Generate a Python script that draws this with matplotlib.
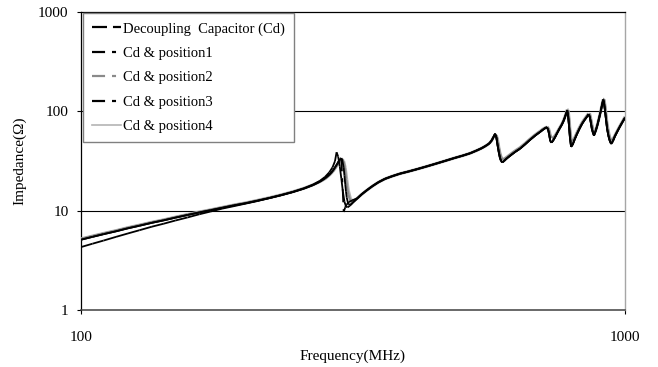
import matplotlib
matplotlib.use("Agg")
import matplotlib.pyplot as plt
from matplotlib.collections import LineCollection
from matplotlib.lines import Line2D
import numpy as np

plt.rcParams["font.family"] = ["Liberation Serif", "DejaVu Serif"]
plt.rcParams["lines.scale_dashes"] = False

# ---- impedance data (MHz, ohm) ----
# low band: shared frequency grid
freq_low = [100, 105, 110, 116, 122, 128, 135, 142, 149, 157, 165, 173, 182,
            191, 201, 211, 222, 233, 245, 257, 267, 275]
z_low_cd = [4.3, 4.65, 5.0, 5.45, 5.9, 6.35, 6.9, 7.4, 7.95, 8.55, 9.2, 9.8,
            10.5, 11.1, 11.8, 12.5, 13.4, 14.3, 15.4, 16.8, 18.3, 20.0]
z_low_black = [5.1, 5.45, 5.8, 6.2, 6.65, 7.05, 7.55, 8.0, 8.5, 9.05, 9.6, 10.1,
               10.7, 11.3, 11.9, 12.6, 13.4, 14.3, 15.4, 16.7, 18.1, 19.6]
z_low_gray = [5.2, 5.55, 5.9, 6.3, 6.75, 7.15, 7.65, 8.1, 8.6, 9.15, 9.7, 10.2,
              10.8, 11.4, 12.0, 12.7, 13.5, 14.4, 15.5, 16.8, 18.2, 19.6]

# first anti-resonance, per series
res_f_cd = [281, 286, 290, 293, 295, 297, 299, 301, 303, 305, 307, 309, 312, 316]
res_z_cd = [21.9, 24.3, 27.3, 31.5, 38.7, 35.0, 28.0, 21.0, 15.5, 12.3, 11.0,
            10.8, 11.2, 12.0]
res_f_p1 = [281, 286, 290, 293, 296, 298, 300, 301, 304, 306, 308, 311, 315]
res_z_p1 = [21.2, 23.0, 25.0, 27.2, 29.8, 31.8, 33.3, 33.7, 9.7, 10.8, 11.6,
            12.2, 12.7]
res_f_p2 = [281, 286, 290, 293, 296, 298, 300, 302, 304, 305, 306, 307, 308,
            310, 313, 317]
res_z_p2 = [21.0, 22.7, 24.6, 26.6, 29.0, 30.8, 32.3, 33.0, 31.0, 28.0, 24.5,
            21.0, 18.0, 14.5, 12.4, 12.5]
res_f_p3 = [281, 286, 290, 293, 296, 298, 300, 301, 302, 304, 305, 306, 307,
            308, 310, 313, 317]
res_z_p3 = [21.2, 23.0, 25.0, 27.2, 29.8, 31.8, 33.3, 33.7, 33.0, 27.0, 22.5,
            18.5, 15.5, 13.5, 11.6, 11.5, 12.3]
res_f_p4 = [281, 286, 290, 293, 296, 298, 300, 302, 304, 306, 308, 310, 313, 317]
res_z_p4 = [21.0, 22.7, 24.6, 26.6, 29.0, 30.8, 32.0, 32.6, 31.5, 27.0, 20.5,
            16.0, 13.0, 12.5]

# middle band: all curves coincide
freq_mid = [322, 328, 335, 343, 352, 362, 373, 386, 400, 415, 431, 448, 466,
            485, 503, 519, 533, 545, 555, 563, 569, 573]
z_mid = [13.3, 14.6, 16.0, 17.6, 19.3, 20.9, 22.2, 23.6, 24.8, 26.2, 27.8,
         29.6, 31.6, 33.8, 35.8, 37.8, 40.2, 42.5, 45.0, 47.5, 51.0, 55.0]

# high band: cavity resonances
freq_high = [577, 580, 583, 586, 589, 592, 595, 599, 606, 616, 628, 641, 655,
             670, 685, 698, 707, 714, 719, 723, 726, 729, 733, 738, 744, 751,
             758, 765, 771, 776, 780, 783, 786, 789, 792, 796, 801, 808, 816,
             825, 834, 843, 851, 857, 861, 865, 869, 873, 877, 883, 890, 897,
             903, 908, 912, 915, 919, 923, 927, 932, 937, 943, 950, 958, 967,
             977, 988, 1000]
z_high_black = [59.5, 55, 46, 39, 34, 31.5, 30.7, 31.5, 33.5, 36.0, 39.0, 42.0,
                46.5, 52.0, 57.5, 62.0, 65.5, 68.0, 69.0, 64, 57, 50, 48.5, 51,
                55, 61, 67, 73, 80, 88, 96, 102, 90, 72, 55, 44, 46, 52, 59, 67,
                75, 82, 88, 93, 89, 78, 67, 61, 57, 63, 73, 87, 102, 118, 131,
                122, 101, 82, 67, 57, 51, 47, 50, 56, 62, 69, 77, 86]
z_high_gray = [57, 57.5, 52, 44, 38, 34.5, 33, 33, 34.5, 37, 40, 43, 47.5, 53,
               58.5, 63, 66.5, 68.5, 69.5, 68, 63, 57, 54, 54, 57, 62, 68, 74,
               81, 89, 97, 104, 103, 86, 66, 52, 50, 54, 61, 69, 77, 84, 90, 95,
               95, 85, 74, 66, 61, 64, 74, 88, 103, 119, 132, 132, 114, 92, 75,
               63, 55, 51, 52, 57, 63, 70, 78, 88]

labels = ["Decoupling  Capacitor (Cd)", "Cd & position1", "Cd & position2",
          "Cd & position3", "Cd & position4"]

series = {
    labels[0]: (freq_low + res_f_cd + freq_mid + freq_high,
                z_low_cd + res_z_cd + z_mid + z_high_black),
    labels[1]: (freq_low + res_f_p1 + freq_mid + freq_high,
                z_low_black + res_z_p1 + z_mid + z_high_black),
    labels[2]: (freq_low + res_f_p2 + freq_mid + freq_high,
                z_low_gray + res_z_p2 + z_mid + z_high_gray),
    labels[3]: (freq_low + res_f_p3 + freq_mid + freq_high,
                z_low_black + res_z_p3 + z_mid + z_high_black),
    labels[4]: (freq_low + res_f_p4 + freq_mid + freq_high,
                z_low_gray + res_z_p4 + z_mid + z_high_gray),
}

dash_long = (0, (10.8, 4.3))
dash_mix = (0, (9.4, 5.0, 2.9, 5.0))
styles = {
    labels[0]: dict(color="black", lw=1.3, ls=dash_long),
    labels[1]: dict(color="black", lw=1.3, ls=dash_mix),
    labels[2]: dict(color="#8a8a8a", lw=1.6, ls=dash_mix),
    labels[3]: dict(color="black", lw=1.3, ls=dash_mix),
    labels[4]: dict(color="#b4b4b4", lw=2.2, ls="solid"),
}
draw_order = [labels[4], labels[2], labels[3], labels[1], labels[0]]

fig = plt.figure(figsize=(6.58, 3.67), dpi=100)
ax = fig.add_axes([81 / 658, 1 - 310 / 367, 544 / 658, 298 / 367])
ax.set_xscale("log")
ax.set_yscale("log")
ax.set_xlim(100, 1000)
ax.set_ylim(1, 1000)

# every segment restarts its dash pattern, so short steps read as solid
for name in draw_order:
    f, z = series[name]
    pts = np.column_stack([f, z])
    segs = np.stack([pts[:-1], pts[1:]], axis=1)
    st = styles[name]
    lc = LineCollection(segs, colors=st["color"], linewidths=st["lw"],
                        linestyles=st["ls"], capstyle="butt", zorder=3)
    ax.add_collection(lc)

for yv in (10, 100):
    ax.axhline(yv, color="black", lw=0.8, zorder=1)

for side in ("left", "top"):
    ax.spines[side].set_color("black")
    ax.spines[side].set_linewidth(0.9)
ax.spines["bottom"].set_color("#404040")
ax.spines["bottom"].set_linewidth(1.1)
ax.spines["right"].set_color("#a6a6a6")
ax.spines["right"].set_linewidth(1.0)

ax.set_xticks([100, 1000])
ax.set_xticklabels(["100", "1000"])
ax.set_yticks([1, 10, 100, 1000])
ax.set_yticklabels(["1", "10", "100", "1000"])
ax.minorticks_off()
ax.tick_params(axis="both", which="major", labelsize=11, length=3, width=0.8,
               direction="out")
ax.tick_params(axis="x", pad=12)
ax.tick_params(axis="y", pad=6)

ax.set_xlabel("Frequency(MHz)", fontsize=11, labelpad=4)
ax.set_ylabel("Impedance(\u03a9)", fontsize=11, labelpad=8)

handles = [Line2D([], [], color=styles[n]["color"],
                  lw=1.6 if n != labels[4] else 1.2, ls=styles[n]["ls"])
           for n in labels]
leg = ax.legend(handles, labels, loc="upper left",
                bbox_to_anchor=(2 / 544, 297 / 298), borderaxespad=0,
                fontsize=10.5, handlelength=2.0, handletextpad=0.12,
                labelspacing=0.77, borderpad=0.62, fancybox=False,
                framealpha=1, edgecolor="#808080")
leg.get_frame().set_linewidth(1.0)
leg.set_zorder(5)

fig.savefig("out.png", dpi=100)
